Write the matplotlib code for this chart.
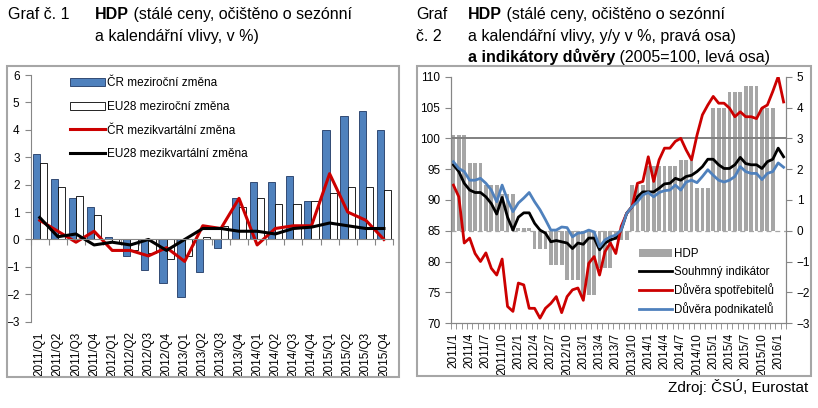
import numpy as np
import matplotlib.pyplot as plt
from matplotlib.patches import Rectangle

plt.rcParams['font.family'] = ['Liberation Sans', 'DejaVu Sans']

# Graf 1 - quarterly GDP
quarters = ["2011/Q1", "2011/Q2", "2011/Q3", "2011/Q4",
            "2012/Q1", "2012/Q2", "2012/Q3", "2012/Q4",
            "2013/Q1", "2013/Q2", "2013/Q3", "2013/Q4",
            "2014/Q1", "2014/Q2", "2014/Q3", "2014/Q4",
            "2015/Q1", "2015/Q2", "2015/Q3", "2015/Q4"]
cz_yoy = [3.1, 2.2, 1.5, 1.2, 0.1, -0.6, -1.1, -1.6, -2.1, -1.2,
          -0.3, 1.5, 2.1, 2.1, 2.3, 1.4, 4.0, 4.5, 4.7, 4.0]
eu_yoy = [2.8, 1.9, 1.6, 0.9, -0.1, -0.4, -0.5, -0.7, -0.6, 0.1,
          0.5, 1.2, 1.5, 1.3, 1.3, 1.4, 1.7, 1.9, 1.9, 1.8]
cz_qoq = [0.7, 0.3, -0.1, 0.3, -0.4, -0.4, -0.6, -0.3, -0.8, 0.5,
          0.4, 1.5, -0.2, 0.4, 0.5, 0.5, 2.4, 1.0, 0.7, 0.0]
eu_qoq = [0.8, 0.1, 0.2, -0.2, -0.1, -0.2, 0.0, -0.4, 0.0, 0.4,
          0.4, 0.3, 0.3, 0.2, 0.4, 0.45, 0.6, 0.5, 0.4, 0.4]

# Graf 2 - monthly confidence indicators, 2011/1 .. 2016/2
month_labels = ["2011/1", "2011/4", "2011/7", "2011/10", "2012/1", "2012/4",
                "2012/7", "2012/10", "2013/1", "2013/4", "2013/7", "2013/10",
                "2014/1", "2014/4", "2014/7", "2014/10", "2015/1", "2015/4",
                "2015/7", "2015/10", "2016/1"]
souhrnny = [95.7, 94.6, 92.7, 91.6, 91.2, 91.2, 90.5, 89.4, 87.7, 90.4, 87.2,
            85.1, 87.2, 87.9, 87.9, 86.2, 85.1, 84.6, 83.2, 83.4, 83.2,
            83.0, 82.1, 83.0, 82.8, 83.8, 83.8, 81.9, 83.0, 83.5, 83.8,
            85.1, 87.8, 88.9, 90.5, 91.3, 91.3, 91.3, 91.9, 92.6, 92.7,
            93.5, 93.2, 93.8, 94.0, 94.6, 95.4, 96.6, 96.6, 95.7, 95.1,
            95.1, 95.7, 96.9, 95.9, 95.7, 95.7, 95.1, 96.2, 96.6, 98.4, 97.0]
spotrebitele = [92.4, 90.5, 83.0, 83.8, 81.3, 80.0, 81.4, 78.9, 77.8, 80.4, 72.7,
                71.9, 76.5, 76.2, 72.4, 72.4, 70.8, 72.4, 73.2, 74.3, 71.7,
                74.3, 75.4, 75.7, 73.7, 79.7, 80.8, 77.8, 81.6, 83.0, 81.3,
                85.7, 87.8, 88.9, 92.7, 93.0, 97.0, 93.0, 96.5, 98.4, 98.4,
                99.5, 100.0, 98.1, 96.5, 100.5, 103.8, 105.4, 106.8, 105.7, 105.7,
                104.9, 103.5, 104.3, 103.5, 103.5, 103.2, 104.9, 105.4, 107.6, 110.0, 105.9]
podnikatele = [96.2, 95.1, 94.6, 93.2, 93.2, 93.5, 92.7, 91.6, 89.7, 92.4, 90.0,
               88.1, 89.5, 90.3, 91.2, 89.7, 88.4, 86.8, 85.1, 85.1, 85.6,
               85.5, 84.0, 84.6, 84.7, 85.1, 84.8, 82.4, 83.5, 84.0, 84.3,
               85.1, 87.8, 88.9, 89.7, 90.8, 91.2, 90.5, 91.2, 91.5, 91.6,
               92.4, 91.6, 92.9, 93.2, 92.8, 93.8, 94.9, 94.0, 93.2, 92.9,
               93.2, 93.8, 95.4, 94.6, 94.3, 94.3, 93.3, 94.3, 94.6, 96.0, 95.3]

W, H = 818, 408
fig = plt.figure(figsize=(W / 100, H / 100), dpi=100)
gray = '#868686'


def fx(px):
    return px / W


def fy(py):
    return 1 - py / H


def rich(x, y, parts, size=11.5):
    r = fig.canvas.get_renderer()
    x = fx(x)
    for s, w in parts:
        t = fig.text(x, fy(y), s, fontsize=size, fontweight=w, va='baseline')
        x = t.get_window_extent(renderer=r).x1 / fig.bbox.width


# frames around both panels
for x0, x1, y0, y1 in [(6.5, 399, 66, 377), (417, 811, 66, 376)]:
    fig.patches.append(Rectangle((fx(x0), fy(y1)), fx(x1 - x0), (y1 - y0) / H,
                                 transform=fig.transFigure, fill=False,
                                 ec='#A6A6A6', lw=1.5))

# ---- Graf 1 ----
ax1 = fig.add_axes([fx(30.7), fy(321.7), fx(393 - 30.7), (321.7 - 75) / H])
x = np.arange(len(quarters))
ax1.bar(x - 0.2, cz_yoy, 0.4, color='#4F81BD', edgecolor='#1F3864', lw=0.6,
        label='ČR meziroční změna')
ax1.bar(x + 0.2, eu_yoy, 0.4, color='white', edgecolor='black', lw=0.6,
        label='EU28 meziroční změna')
ax1.plot(x, cz_qoq, color='#CC0000', lw=2.2, label='ČR mezikvartální změna')
ax1.plot(x, eu_qoq, color='black', lw=2.2, label='EU28 mezikvartální změna')
ax1.set_xlim(-0.5, len(quarters) - 0.5)
ax1.set_ylim(-3, 6)
ax1.set_yticks(range(-3, 7))
for s in ['top', 'right']:
    ax1.spines[s].set_visible(False)
ax1.spines['left'].set_color(gray)
ax1.spines['bottom'].set_color(gray)
ax1.spines['bottom'].set_position(('data', 0))
ax1.set_xticks(np.arange(-0.5, len(quarters), 1), labels=[])
ax1.tick_params(axis='x', length=4, color=gray)
ax1.tick_params(axis='y', length=4, color=gray, labelsize=8.5, pad=4)
sec = ax1.secondary_xaxis('bottom')
sec.set_xticks(x, labels=quarters, rotation=90, fontsize=8.5)
sec.tick_params(length=0, pad=7)
sec.spines['bottom'].set_visible(False)
hh, ll = ax1.get_legend_handles_labels()
order = [2, 3, 0, 1]
ax1.legend([hh[i] for i in order], [ll[i] for i in order], loc='upper left',
           bbox_to_anchor=(0.08, 1.035), frameon=False, fontsize=8.5,
           handlelength=2.9, handletextpad=0.2, labelspacing=1.0)

# ---- Graf 2 ----
ax = fig.add_axes([fx(450.7), fy(323.1), fx(786.3 - 450.7), (323.1 - 76.7) / H])
ax2 = ax.twinx()
months = np.arange(len(souhrnny))
hdp_monthly = np.repeat(cz_yoy, 3)
ax2.bar(np.arange(len(hdp_monthly)), hdp_monthly, 0.7, color='#A6A6A6', label='HDP')
ax2.axhline(0, color='#A6A6A6', lw=0.9, ls=(0, (4, 3)))
ax.axhline(100, color='#808080', lw=1.4)
ax.plot(months, souhrnny, color='black', lw=2, label='Souhmný indikátor')
ax.plot(months, spotrebitele, color='#CC0000', lw=2, label='Důvěra spotřebitelů')
ax.plot(months, podnikatele, color='#4F81BD', lw=2, label='Důvěra podnikatelů')
ax.set_zorder(ax2.get_zorder() + 1)
ax.patch.set_visible(False)
ax.set_xlim(-0.5, len(souhrnny) - 0.5)
ax.set_ylim(70, 110)
ax2.set_ylim(-3, 5)
ax.set_yticks(range(70, 111, 5))
ax2.set_yticks(range(-3, 6))
ax.set_xticks(np.arange(0, 61, 3), labels=month_labels, rotation=90, fontsize=8.5)
ax.set_xticks(np.arange(-0.5, len(souhrnny), 1), minor=True)
ax.tick_params(axis='x', which='major', length=0, pad=7)
ax.tick_params(axis='x', which='minor', length=4, color=gray)
ax.tick_params(axis='y', length=4, color=gray, labelsize=8.5)
ax2.tick_params(axis='y', length=4, color=gray, labelsize=8.5)
for a in (ax, ax2):
    a.spines['top'].set_visible(False)
    for s in ['left', 'right', 'bottom']:
        a.spines[s].set_color(gray)
h1, l1 = ax2.get_legend_handles_labels()
h2, l2 = ax.get_legend_handles_labels()
ax.legend(h1 + h2, l1 + l2, loc='upper left', bbox_to_anchor=(0.53, 0.345),
          frameon=False, fontsize=8.3, handlelength=2.9, handletextpad=0.15,
          labelspacing=0.45)

# titles
fig.text(fx(8), fy(19), 'Graf č. 1', fontsize=11.5, va='baseline')
rich(95, 19, [('HDP', 'bold'), (' (stálé ceny, očištěno o sezónní', 'normal')])
rich(95, 41, [('a kalendářní vlivy, v %)', 'normal')])
fig.text(fx(416), fy(19), 'Graf', fontsize=11.5, va='baseline')
fig.text(fx(416), fy(41), 'č. 2', fontsize=11.5, va='baseline')
rich(468, 19, [('HDP', 'bold'), (' (stálé ceny, očištěno o sezónní', 'normal')])
rich(468, 41, [('a kalendářní vlivy, y/y v %, pravá osa)', 'normal')])
rich(468, 62, [('a indikátory důvěry', 'bold'), (' (2005=100, levá osa)', 'normal')])
fig.text(fx(808), fy(392), 'Zdroj: ČSÚ, Eurostat', fontsize=11, ha='right', va='baseline')

fig.savefig('out.png', dpi=100)
